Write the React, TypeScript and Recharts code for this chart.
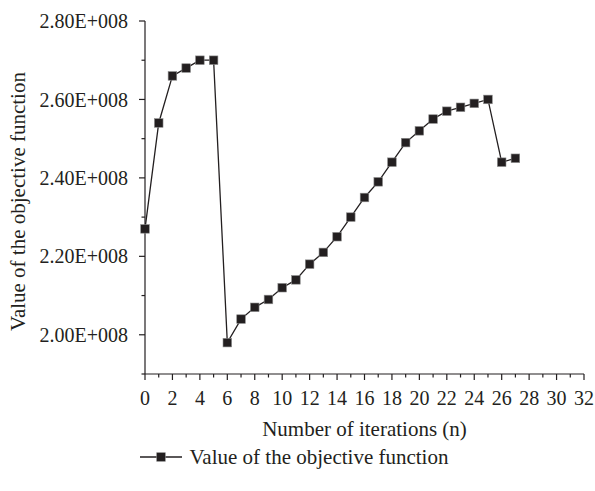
import React from 'react';
import { LineChart, Line, XAxis, YAxis, Legend, Label } from 'recharts';

// iterations and objective values
const iterations = [0, 1, 2, 3, 4, 5, 6, 7, 8, 9, 10, 11, 12, 13, 14, 15, 16, 17, 18, 19, 20, 21, 22, 23, 24, 25, 26, 27];
const objectiveValues = [
    2.27e8, 2.54e8, 2.66e8, 2.68e8, 2.70e8, 2.70e8, 1.98e8, 2.04e8, 2.07e8, 2.09e8,
    2.12e8, 2.14e8, 2.18e8, 2.21e8, 2.25e8, 2.30e8, 2.35e8, 2.39e8, 2.44e8, 2.49e8,
    2.52e8, 2.55e8, 2.57e8, 2.58e8, 2.59e8, 2.60e8, 2.44e8, 2.45e8,
];

const xTicks = [0, 1, 2, 3, 4, 5, 6, 7, 8, 9, 10, 11, 12, 13, 14, 15, 16, 17, 18, 19, 20, 21, 22, 23, 24, 25, 26, 27, 28, 29, 30, 31, 32];
const yTicks = [1.9e8, 2.0e8, 2.1e8, 2.2e8, 2.3e8, 2.4e8, 2.5e8, 2.6e8, 2.7e8, 2.8e8];

const seriesName = 'Value of the objective function';
const xTitle = 'Number of iterations (n)';
const yTitle = 'Value of the objective function';

const INK = '#231f20';
const FONT = '"Liberation Serif", "DejaVu Serif", serif';
const FS = 20; // tick labels
const TS = 21; // titles and legend

const chartData = iterations.map((n, i) => ({ n, value: objectiveValues[i] }));

const formatY = (v: number) => `${(v / 1e8).toFixed(2)}E+008`;

// x ticks: long tick + label on even values, short tick on odd ones
const XTick = (props: any) => {
    const { x, y, payload } = props;
    const major = payload.value % 2 === 0;
    return (
        <g>
            <line x1={x} y1={y} x2={x} y2={y + (major ? 6 : 3.5)} stroke={INK} strokeWidth={1.2} />
            {major && (
                <text x={x} y={y + 17} dy="0.71em" textAnchor="middle" fill={INK} fontSize={FS} fontFamily={FONT}>
                    {payload.value}
                </text>
            )}
        </g>
    );
};

const YTick = (props: any) => {
    const { x, y, payload } = props;
    const major = Math.round(payload.value / 1e7) % 2 === 0;
    return (
        <g>
            <line x1={x - (major ? 6 : 3.5)} y1={y} x2={x} y2={y} stroke={INK} strokeWidth={1.2} />
            {major && (
                <text x={x - 17} y={y} dy="0.355em" textAnchor="end" fill={INK} fontSize={FS} fontFamily={FONT}>
                    {formatY(payload.value)}
                </text>
            )}
        </g>
    );
};

const SquareDot = (props: any) => {
    const { cx, cy, index } = props;
    if (cx == null || cy == null) return null;
    return <rect key={`dot-${index}`} x={cx - 4.3} y={cy - 4.3} width={8.6} height={8.6} fill={INK} stroke="#8c8c8c" strokeWidth={0.6} />;
};

const LegendContent = () => (
    <div style={{ display: 'flex', justifyContent: 'center', alignItems: 'center', height: 12, fontFamily: FONT, fontSize: TS, color: INK, paddingLeft: 4 }}>
        <svg width={42} height={12} style={{ marginRight: 8 }}>
            <line x1={0} y1={6} x2={42} y2={6} stroke={INK} strokeWidth={1.3} />
            <rect x={16.7} y={1.7} width={8.6} height={8.6} fill={INK} stroke="#8c8c8c" strokeWidth={0.6} />
        </svg>
        <span style={{ lineHeight: '12px' }}>{seriesName}</span>
    </div>
);

export default function App() {
    return (
        <div style={{ position: 'absolute', left: 0, top: 0, width: 595, height: 491, background: '#fff' }}>
            <LineChart
                width={595}
                height={491}
                data={chartData}
                margin={{ top: 21, right: 11, left: 0, bottom: 0 }}
            >
                <XAxis
                    dataKey="n"
                    type="number"
                    domain={[0, 32]}
                    ticks={xTicks}
                    interval={0}
                    height={77}
                    axisLine={{ stroke: INK, strokeWidth: 1.2 }}
                    tickLine={false}
                    tickSize={0}
                    tickMargin={0}
                    tick={XTick}
                >
                    <Label
                        content={({ viewBox }: any) => (
                            <text x={viewBox.x + viewBox.width / 2} y={viewBox.y + 62} textAnchor="middle" fill={INK} fontSize={TS} fontFamily={FONT}>
                                {xTitle}
                            </text>
                        )}
                    />
                </XAxis>
                <YAxis
                    type="number"
                    domain={[1.9e8, 2.8e8]}
                    ticks={yTicks}
                    interval={0}
                    width={145}
                    axisLine={{ stroke: INK, strokeWidth: 1.2 }}
                    tickLine={false}
                    tickSize={0}
                    tickMargin={0}
                    tick={YTick}
                >
                    <Label
                        content={({ viewBox }: any) => {
                            const lx = 25;
                            const ly = viewBox.y + viewBox.height / 2 + 4;
                            return (
                                <text x={lx} y={ly} textAnchor="middle" fill={INK} fontSize={TS} fontFamily={FONT} transform={`rotate(-90, ${lx}, ${ly})`}>
                                    {yTitle}
                                </text>
                            );
                        }}
                    />
                </YAxis>
                <Legend verticalAlign="bottom" height={40} content={LegendContent} />
                <Line
                    type="linear"
                    dataKey="value"
                    name={seriesName}
                    stroke={INK}
                    strokeWidth={1.3}
                    dot={SquareDot}
                    activeDot={false}
                    isAnimationActive={false}
                />
            </LineChart>
        </div>
    );
}
